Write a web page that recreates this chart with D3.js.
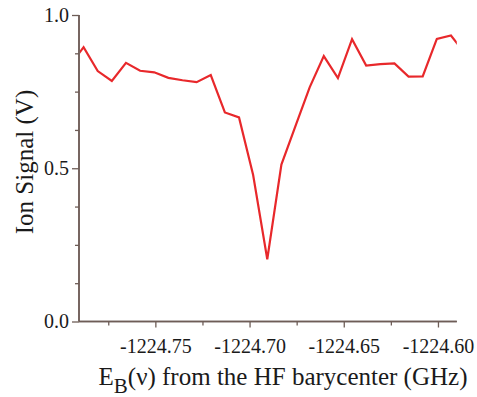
<!DOCTYPE html>
<html>
<head>
<meta charset="utf-8">
<script src="https://cdn.jsdelivr.net/npm/d3@7"></script>
<style>
  html, body { margin: 0; padding: 0; background: #fff; }
  svg { display: block; }
  text { font-family: "Liberation Serif", "Times New Roman", serif; fill: #1a1a1a; }
</style>
</head>
<body>
<svg id="chart" width="477" height="397"></svg>
<script>
// Detuning from the HF barycenter (GHz) and ion signal (V)
const energyGHz = [
  -1224.7956, -1224.7881, -1224.7806, -1224.7731, -1224.7656, -1224.7581,
  -1224.7506, -1224.7431, -1224.7356, -1224.7281, -1224.7206, -1224.7131,
  -1224.7056, -1224.6981, -1224.6906, -1224.6831, -1224.6756, -1224.6681,
  -1224.6606, -1224.6531, -1224.6456, -1224.6381, -1224.6306, -1224.6231,
  -1224.6156, -1224.6081, -1224.6006, -1224.5931, -1224.5856
];
const ionSignal = [
  0.833, 0.895, 0.817, 0.785, 0.844, 0.818,
  0.813, 0.795, 0.787, 0.781, 0.804, 0.682,
  0.666, 0.478, 0.203, 0.512, 0.638, 0.764,
  0.866, 0.794, 0.921, 0.835, 0.840, 0.842,
  0.799, 0.800, 0.922, 0.933, 0.874
];
const xMajorTicks = [-1224.75, -1224.70, -1224.65, -1224.60];
const xMinorTicks = [-1224.775, -1224.725, -1224.675, -1224.625];
const yMajorTicks = [0.0, 0.5, 1.0];
const yMinorTicks = [0.125, 0.25, 0.375, 0.625, 0.75, 0.875];

const axisColor = "#6e5d57";
const svg = d3.select("#chart");

const x = d3.scaleLinear().domain([-1224.79, -1224.59]).range([80, 456.8]);
const y = d3.scaleLinear().domain([0, 1]).range([321.5, 15]);

// plain hyphen for negative tick labels
const fmtX = d => d.toFixed(2);

// clip so the trace ends on the frame
svg.append("clipPath").attr("id", "plot-clip")
  .append("rect").attr("x", 80).attr("y", 0).attr("width", 376.8).attr("height", 330);

// x axis
const xAxis = svg.append("g").attr("transform", `translate(0,${y(0)})`);
xAxis.call(d3.axisBottom(x).tickValues(xMajorTicks).tickSize(6).tickPadding(11)
  .tickFormat(fmtX));
xAxis.append("g").call(d3.axisBottom(x).tickValues(xMinorTicks).tickSize(4).tickFormat(""));
xAxis.selectAll(".domain").attr("d", `M${x.range()[0] - 1},0H${x.range()[1]}`);

// y axis
const yAxis = svg.append("g").attr("transform", `translate(${x.range()[0] - 1},0)`);
yAxis.call(d3.axisLeft(y).tickValues(yMajorTicks).tickSize(7).tickPadding(3)
  .tickFormat(d => d.toFixed(1)));
yAxis.append("g").call(d3.axisLeft(y).tickValues(yMinorTicks).tickSize(4).tickFormat(""));
yAxis.selectAll(".domain").attr("d", `M0,${y(1)}V${y(0)}`);

svg.selectAll(".domain").attr("stroke", axisColor).attr("stroke-width", 1.5);
svg.selectAll(".tick line").attr("stroke", axisColor).attr("stroke-width", 1.3);
svg.selectAll(".tick text").attr("font-size", 20)
  .attr("font-family", "'Liberation Serif', 'Times New Roman', serif").attr("fill", "#1a1a1a");

// trace
const line = d3.line().x((d, i) => x(energyGHz[i])).y(d => y(d));
svg.append("path")
  .datum(ionSignal)
  .attr("clip-path", "url(#plot-clip)")
  .attr("fill", "none")
  .attr("stroke", "#e8282b")
  .attr("stroke-width", 2.2)
  .attr("stroke-linejoin", "miter")
  .attr("d", line);

// axis titles
svg.append("text")
  .attr("transform", "translate(33,162) rotate(-90)")
  .attr("text-anchor", "middle")
  .attr("font-size", 25)
  .text("Ion Signal (V)");

const xt = svg.append("text")
  .attr("x", 283).attr("y", 385)
  .attr("text-anchor", "middle")
  .attr("font-size", 25);
xt.append("tspan").text("E");
xt.append("tspan").attr("font-size", 21).attr("dy", 8).text("B");
xt.append("tspan").attr("dy", -8).text("(ν) from the HF barycenter (GHz)");
</script>
</body>
</html>
